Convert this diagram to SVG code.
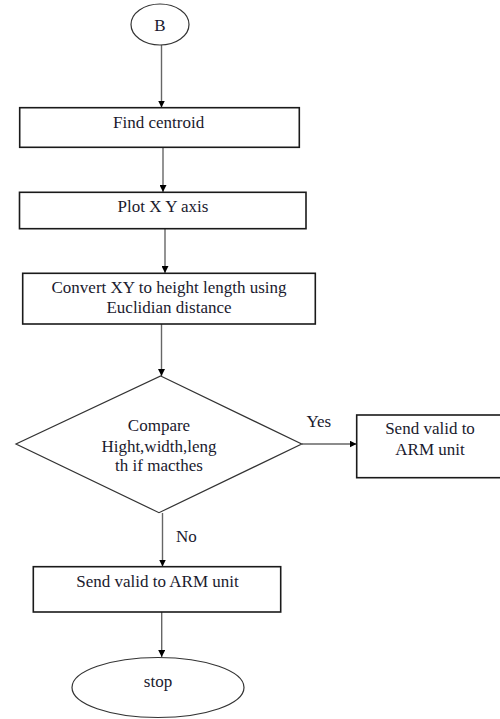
<svg xmlns="http://www.w3.org/2000/svg" width="500" height="719" viewBox="0 0 500 719">
  <style>
    .shape { fill: #ffffff; stroke: #1a1a1a; stroke-width: 1.6; }
    .term { fill: #ffffff; stroke: #333333; stroke-width: 1.2; }
    .link { fill: none; stroke: #666666; stroke-width: 1.4; }
    text { font-family: "Liberation Serif", "Times New Roman", serif; font-size: 17px; fill: #1a1a2e; }
    .mid { text-anchor: middle; }
  </style>
  <defs>
    <marker id="arrow" viewBox="0 0 10 10" refX="10" refY="5" markerWidth="7" markerHeight="7" markerUnits="userSpaceOnUse" orient="auto">
      <path d="M0,0 L10,5 L0,10 Z" fill="#000000"/>
    </marker>
  </defs>

  <rect width="500" height="719" fill="#ffffff"/>

  <!-- connectors -->
  <g id="connectors">
    <line class="link" x1="161.5" y1="45" x2="161.5" y2="107.5" marker-end="url(#arrow)"/>
    <line class="link" x1="163" y1="147.5" x2="163" y2="192" marker-end="url(#arrow)"/>
    <line class="link" x1="165" y1="229" x2="165" y2="273" marker-end="url(#arrow)"/>
    <line class="link" x1="161.5" y1="324" x2="161.5" y2="376" marker-end="url(#arrow)"/>
    <line class="link" x1="302" y1="444" x2="356.5" y2="444" marker-end="url(#arrow)"/>
    <line class="link" x1="162.5" y1="513" x2="162.5" y2="566.5" marker-end="url(#arrow)"/>
    <line class="link" x1="161.7" y1="612" x2="161.7" y2="657" marker-end="url(#arrow)"/>
    <text x="306.5" y="426.5">Yes</text>
    <text x="176" y="541.5">No</text>
  </g>

  <!-- start connector B -->
  <g id="node-b">
    <ellipse class="term" cx="160" cy="24.5" rx="29" ry="20.5"/>
    <text class="mid" x="160" y="30.5">B</text>
  </g>

  <g id="node-find-centroid">
    <rect class="shape" x="19.7" y="107.7" width="279.6" height="39.6"/>
    <text x="113" y="128">Find centroid</text>
  </g>

  <g id="node-plot-axis">
    <rect class="shape" x="19.5" y="192.3" width="286.5" height="36.4"/>
    <text class="mid" x="163" y="211.7">Plot X Y axis</text>
  </g>

  <g id="node-convert">
    <rect class="shape" x="22.7" y="273.3" width="292.6" height="50.7"/>
    <text class="mid" x="169" y="292.7">Convert XY to height length using</text>
    <text class="mid" x="169" y="312.7">Euclidian distance</text>
  </g>

  <g id="node-compare">
    <polygon class="term" points="160.7,376 301.7,444 159,512.7 16,444"/>
    <text class="mid" x="159" y="430.7">Compare</text>
    <text class="mid" x="159" y="451.7">Hight,width,leng</text>
    <text class="mid" x="159" y="471">th if macthes</text>
  </g>

  <g id="node-send-yes">
    <rect class="shape" x="356.7" y="415" width="145" height="62.7"/>
    <text class="mid" x="430" y="434.3">Send valid to</text>
    <text class="mid" x="430" y="455">ARM unit</text>
  </g>

  <g id="node-send-no">
    <rect class="shape" x="33.3" y="566.7" width="247.4" height="45.3"/>
    <text class="mid" x="157.5" y="586.7">Send valid to ARM unit</text>
  </g>

  <g id="node-stop">
    <ellipse class="term" cx="158" cy="687.5" rx="86" ry="30"/>
    <text class="mid" x="158" y="686.7">stop</text>
  </g>
</svg>
